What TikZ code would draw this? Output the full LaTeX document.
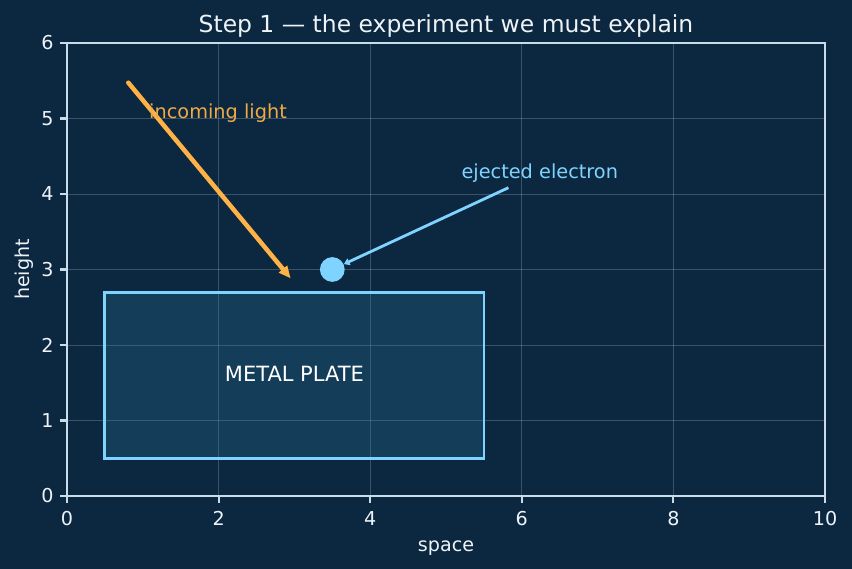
\documentclass[tikz,border=0pt]{standalone}
\usepackage{fontspec}
\setmainfont{DejaVu Sans}
\usetikzlibrary{arrows.meta}
\definecolor{bg}{HTML}{0C2740}
\definecolor{spinec}{HTML}{C8DCEA}
\definecolor{txtc}{HTML}{EEF3F8}
\definecolor{lightor}{HTML}{FFB347}
\definecolor{lighttxt}{HTML}{EFAA48}
\definecolor{elec}{HTML}{7FD3FF}
\definecolor{platefill}{HTML}{287FA0}
\tikzset{
  gridline/.style={white, opacity=0.2, line width=0.5pt},
  spine/.style={spinec, line width=1.1pt},
  ticklab/.style={txtc, font=\fontsize{10.2}{12}\selectfont, inner sep=0pt},
  axlab/.style={txtc, font=\fontsize{10.2}{12}\selectfont, inner sep=0pt},
  platebox/.style={draw=elec, line width=1.5pt, fill=platefill, fill opacity=0.25},
  platelab/.style={white, font=\fontsize{11.2}{13}\selectfont, inner sep=0pt, anchor=base},
  electron/.style={circle, fill=elec, minimum size=13.2pt, inner sep=0pt},
  lightarrow/.style={lightor, line width=2.4pt, -{Triangle[length=6.5pt,width=5.5pt]}},
  elecarrow/.style={elec, line width=1.5pt, -{Triangle[length=3pt,width=3.8pt]}},
  annot/.style={font=\fontsize{10.3}{12}\selectfont, inner sep=0pt, anchor=base west}
}
\begin{document}
\begin{tikzpicture}[x=0.5333pt,y=0.5333pt]
\fill[bg] (0,0) rectangle (852,569);
\useasboundingbox (0,0) rectangle (852,569);
\begin{scope}[shift={(67,73)},x=40.425pt,y=40.265pt]
  % grid
  \foreach \i in {2,4,6,8} \draw[gridline] (\i,0) -- (\i,6);
  \foreach \j in {1,...,5} \draw[gridline] (0,\j) -- (10,\j);
  % plate
  \draw[platebox] (0.5,0.5) rectangle (5.5,2.7);
  \node[platelab] (plate) at (3,1.514) {METAL PLATE};
  % electron
  \node[electron] (e) at (3.5,3) {};
  \coordinate (es) at (5.823,4.083);
  \draw[elecarrow] (es) -- (e);
  \node[annot, elec] (elab) at (5.2,4.2) {ejected electron};
  % light
  \coordinate (ls) at (0.809,5.474);
  \coordinate (le) at (2.951,2.882);
  \draw[lightarrow, line cap=round] (ls) -- (le);
  \node[annot, lighttxt] (llab) at (1.08,5.0) {incoming light};
  % spines
  \draw[spine] (0,0) rectangle (10,6);
  % ticks
  \foreach \i in {0,2,...,10} {
    \draw[spine] (\i,0) -- ++(0,-3.5pt);
    \node[ticklab, anchor=base] (xt\i) at ([yshift=-15.9pt]\i,0) {\i};
  }
  \foreach \j in {0,...,6} {
    \draw[spine] (0,\j) -- ++(-3.5pt,0);
    \node[ticklab, anchor=east] (yt\j) at ([xshift=-7pt]0,\j) {\j};
  }
  \node[axlab, anchor=base] (xlab) at ([yshift=-29.6pt]5,0) {space};
  \node[axlab, anchor=base, rotate=90] (ylab) at ([xshift=-20.2pt]0,3) {height};
  \node[txtc, font=\fontsize{12.5}{14}\selectfont, inner sep=0pt, anchor=base] (title) at ([yshift=5.5pt]5,6) {Step 1 — the experiment we must explain};
\end{scope}
\end{tikzpicture}
\end{document}
